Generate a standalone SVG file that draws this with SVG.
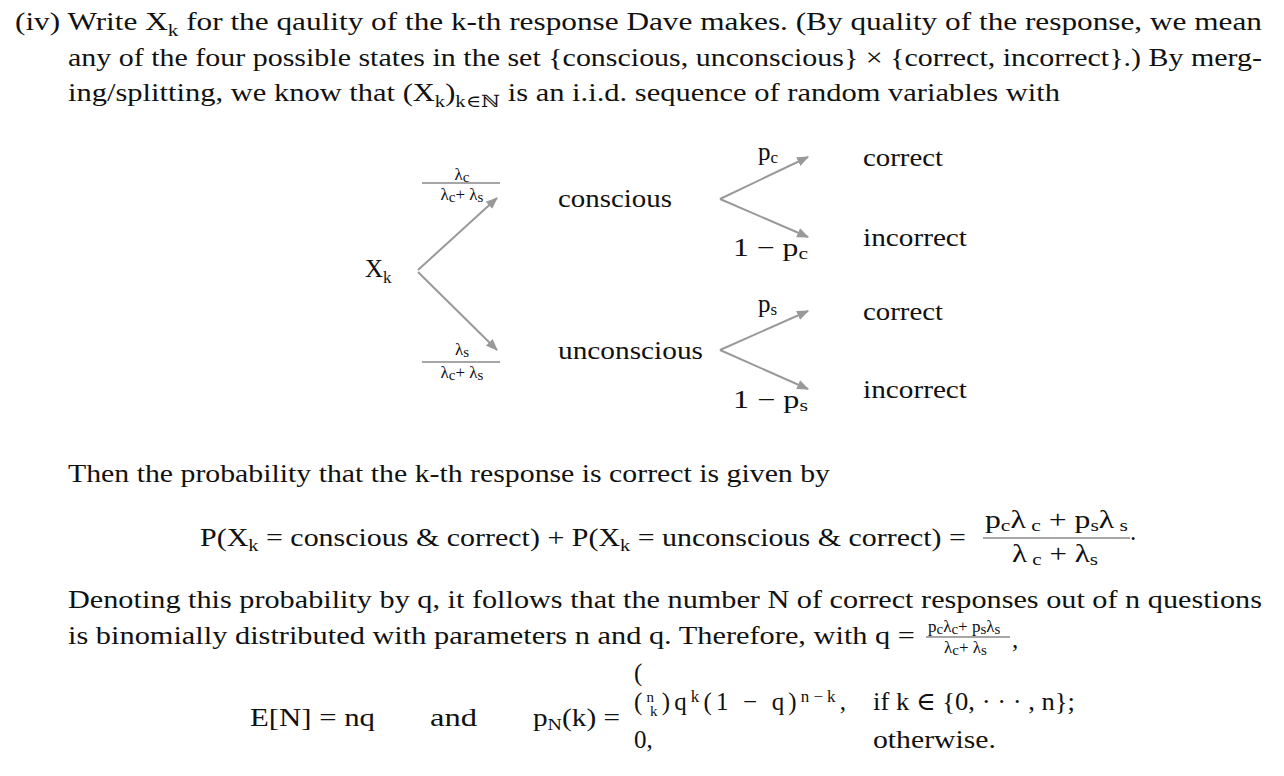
<svg xmlns="http://www.w3.org/2000/svg" width="1284" height="776" viewBox="0 0 1284 776">
<style>
text{font-family:"Liberation Serif","DejaVu Serif",serif;fill:#111;font-size:25px}
.s{font-size:15px}
.m{font-size:17px}
.c{stroke:#999;stroke-width:2;fill:none;marker-end:url(#a)}
.f{stroke:#888;stroke-width:1.5}
</style>
<defs><marker id="a" viewBox="0 0 10 10" refX="9" refY="5" markerWidth="6" markerHeight="6" orient="auto"><path d="M0,1 L10,5 L0,9 z" fill="#999"/></marker></defs>
<rect width="1284" height="776" fill="#fff"/>
<text x="15" y="30" textLength="1247" lengthAdjust="spacingAndGlyphs">(iv) Write X<tspan class="m" dy="6">k</tspan><tspan dy="-6"> for the qaulity of the k-th response Dave makes. (By quality of the response, we mean</tspan></text>
<text x="68" y="66" textLength="1194" lengthAdjust="spacingAndGlyphs">any of the four possible states in the set {conscious, unconscious} × {correct, incorrect}.) By merg-</text>
<text x="68" y="101" textLength="992" lengthAdjust="spacingAndGlyphs">ing/splitting, we know that (X<tspan class="m" dy="6">k</tspan><tspan dy="-6">)</tspan><tspan class="m" dy="6">k∈ℕ</tspan><tspan dy="-6"> is an i.i.d. sequence of random variables with</tspan></text>
<g id="connectors">
<path class="c" d="M418,270 L497,198"/>
<path class="c" d="M418,272 L497,350"/>
<path class="c" d="M720,199 L808,157"/>
<path class="c" d="M720,199 L808,237"/>
<path class="c" d="M720,350 L808,311"/>
<path class="c" d="M720,350 L808,389"/>
</g>
<g id="xk"><text x="365" y="277">X<tspan class="m" dy="6">k</tspan></text></g>
<g id="conscious"><text x="558" y="207" textLength="114" lengthAdjust="spacingAndGlyphs">conscious</text></g>
<g id="unconscious"><text x="558" y="359" textLength="145" lengthAdjust="spacingAndGlyphs">unconscious</text></g>
<g id="correct1"><text x="863" y="166" textLength="80" lengthAdjust="spacingAndGlyphs">correct</text></g>
<g id="incorrect1"><text x="863" y="246" textLength="104" lengthAdjust="spacingAndGlyphs">incorrect</text></g>
<g id="correct2"><text x="863" y="320" textLength="80" lengthAdjust="spacingAndGlyphs">correct</text></g>
<g id="incorrect2"><text x="863" y="398" textLength="104" lengthAdjust="spacingAndGlyphs">incorrect</text></g>
<g id="labels">
<text x="758" y="160">p<tspan class="m" dy="3">c</tspan></text>
<text x="733" y="256" textLength="75" lengthAdjust="spacingAndGlyphs">1 − p<tspan class="m" dy="3">c</tspan></text>
<text x="758" y="312">p<tspan class="m" dy="3">s</tspan></text>
<text x="733" y="408" textLength="75" lengthAdjust="spacingAndGlyphs">1 − p<tspan class="m" dy="3">s</tspan></text>
<text class="m" x="462" y="180" text-anchor="middle">λ<tspan class="s" dy="2">c</tspan></text>
<line class="f" x1="422" y1="183" x2="500" y2="183"/>
<text class="m" x="462" y="200" text-anchor="middle">λ<tspan class="s" dy="2">c</tspan><tspan dy="-2">+ λ</tspan><tspan class="s" dy="2">s</tspan></text>
<text class="m" x="462" y="355" text-anchor="middle">λ<tspan class="s" dy="2">s</tspan></text>
<line class="f" x1="422" y1="362" x2="500" y2="362"/>
<text class="m" x="462" y="378" text-anchor="middle">λ<tspan class="s" dy="2">c</tspan><tspan dy="-2">+ λ</tspan><tspan class="s" dy="2">s</tspan></text>
</g>
<text x="68" y="482" textLength="762" lengthAdjust="spacingAndGlyphs">Then the probability that the k-th response is correct is given by</text>
<text x="200" y="546" textLength="766" lengthAdjust="spacingAndGlyphs">P(X<tspan class="m" dy="5">k</tspan><tspan dy="-5"> = conscious &amp; correct) + P(X</tspan><tspan class="m" dy="5">k</tspan><tspan dy="-5"> = unconscious &amp; correct) =</tspan></text>
<text x="985" y="528" font-size="22" textLength="143" lengthAdjust="spacingAndGlyphs">p<tspan class="m" dy="3">c</tspan><tspan dy="-3">λ</tspan><tspan class="m" dy="3"> c</tspan><tspan dy="-3"> + p</tspan><tspan class="m" dy="3">s</tspan><tspan dy="-3">λ</tspan><tspan class="m" dy="3"> s</tspan></text>
<line class="f" x1="983" y1="538" x2="1130" y2="538"/>
<text x="1012" y="562" font-size="22" textLength="86" lengthAdjust="spacingAndGlyphs">λ<tspan class="m" dy="3"> c</tspan><tspan dy="-3"> + λ</tspan><tspan class="m" dy="3">s</tspan></text>
<text x="1130" y="540">.</text>
<text x="68" y="608" textLength="1194" lengthAdjust="spacingAndGlyphs">Denoting this probability by q, it follows that the number N of correct responses out of n questions</text>
<text x="68" y="644" textLength="847" lengthAdjust="spacingAndGlyphs">is binomially distributed with parameters n and q. Therefore, with q =</text>
<text x="928" y="632" class="m">p<tspan class="s" dy="2">c</tspan><tspan dy="-2">λ</tspan><tspan class="s" dy="2">c</tspan><tspan dy="-2">+ p</tspan><tspan class="s" dy="2">s</tspan><tspan dy="-2">λ</tspan><tspan class="s" dy="2">s</tspan></text>
<line class="f" x1="926" y1="637" x2="1010" y2="637"/>
<text x="944" y="653" class="m">λ<tspan class="s" dy="2">c</tspan><tspan dy="-2">+ λ</tspan><tspan class="s" dy="2">s</tspan></text>
<text x="1012" y="648">,</text>
<text x="250" y="726" textLength="125" lengthAdjust="spacingAndGlyphs">E[N] = nq</text>
<text x="430" y="726" textLength="47" lengthAdjust="spacingAndGlyphs">and</text>
<text x="533" y="726" textLength="87" lengthAdjust="spacingAndGlyphs">p<tspan class="m" dy="4">N</tspan><tspan dy="-4">(k) =</tspan></text>
<text x="634" y="681">(</text>
<text x="634" y="710" textLength="212" lengthAdjust="spacing">(<tspan class="s" dy="-8">n</tspan><tspan class="s" dx="-8" dy="14">k</tspan><tspan dy="-6">)q</tspan><tspan class="m" dy="-8">k</tspan><tspan dy="8">(1 − q)</tspan><tspan class="m" dy="-8">n−k</tspan><tspan dy="8">,</tspan></text>
<text x="873" y="710" textLength="202" lengthAdjust="spacingAndGlyphs">if k ∈ {0, · · · , n};</text>
<text x="634" y="748">0,</text>
<text x="873" y="748" textLength="123" lengthAdjust="spacingAndGlyphs">otherwise.</text>
</svg>
